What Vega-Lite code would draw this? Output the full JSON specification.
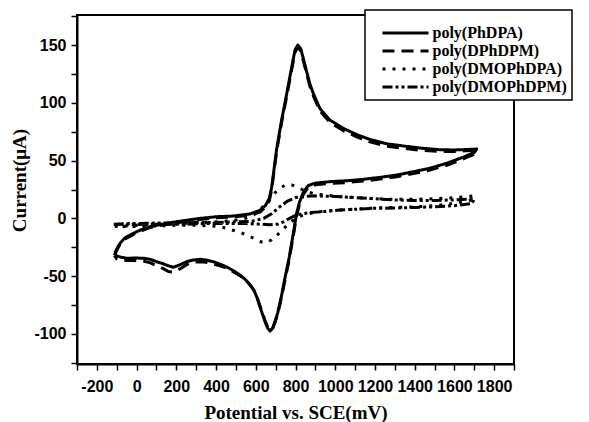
{
  "$schema": "https://vega.github.io/schema/vega-lite/v6.json",
  "width": 437,
  "height": 349,
  "autosize": {"type": "none"},
  "padding": {"left": 77, "top": 15, "right": 75, "bottom": 58},
  "background": "white",
  "config": {
    "view": {"stroke": "black", "strokeWidth": 2},
    "axis": {
      "grid": false,
      "domainColor": "black",
      "domainWidth": 2,
      "tickColor": "black",
      "tickWidth": 1.5,
      "tickSize": 6,
      "labelFont": "Liberation Sans",
      "labelFontWeight": "bold",
      "labelFontSize": 16,
      "labelColor": "black",
      "titleFont": "Liberation Serif",
      "titleFontWeight": "bold",
      "titleFontSize": 19,
      "titleColor": "black"
    },
    "legend": {
      "orient": "none",
      "legendX": 288,
      "legendY": -5,
      "strokeColor": "black",
      "strokeWidth": 1.5,
      "fillColor": "white",
      "padding": 5,
      "titleFontSize": 4,
      "titlePadding": 5,
      "symbolOffset": 26.5,
      "symbolType": "M-3.067,0H3.067",
      "symbolSize": 225,
      "symbolStrokeWidth": 3,
      "symbolStrokeColor": "black",
      "labelFont": "Liberation Serif",
      "labelFontWeight": "bold",
      "labelFontSize": 16,
      "labelColor": "black",
      "labelOffset": 18,
      "rowPadding": 1,
      "labelLimit": 300
    }
  },
  "data": {
    "values": [
      {"s":"poly(PhDPA)","i":0,"x":-110,"y":-30},
      {"s":"poly(PhDPA)","i":1,"x":-95,"y":-25},
      {"s":"poly(PhDPA)","i":2,"x":-83,"y":-21.5},
      {"s":"poly(PhDPA)","i":3,"x":-60,"y":-17},
      {"s":"poly(PhDPA)","i":4,"x":-17,"y":-13},
      {"s":"poly(PhDPA)","i":5,"x":20,"y":-10},
      {"s":"poly(PhDPA)","i":6,"x":67,"y":-7.2},
      {"s":"poly(PhDPA)","i":7,"x":152,"y":-4.2},
      {"s":"poly(PhDPA)","i":8,"x":235,"y":-2},
      {"s":"poly(PhDPA)","i":9,"x":319,"y":0},
      {"s":"poly(PhDPA)","i":10,"x":404,"y":1.5},
      {"s":"poly(PhDPA)","i":11,"x":487,"y":2},
      {"s":"poly(PhDPA)","i":12,"x":571,"y":3.8},
      {"s":"poly(PhDPA)","i":13,"x":621,"y":7},
      {"s":"poly(PhDPA)","i":14,"x":648,"y":11},
      {"s":"poly(PhDPA)","i":15,"x":668,"y":17},
      {"s":"poly(PhDPA)","i":16,"x":680,"y":27},
      {"s":"poly(PhDPA)","i":17,"x":690,"y":40},
      {"s":"poly(PhDPA)","i":18,"x":705,"y":60},
      {"s":"poly(PhDPA)","i":19,"x":730,"y":85},
      {"s":"poly(PhDPA)","i":20,"x":756,"y":108},
      {"s":"poly(PhDPA)","i":21,"x":781,"y":131},
      {"s":"poly(PhDPA)","i":22,"x":798,"y":146},
      {"s":"poly(PhDPA)","i":23,"x":812,"y":150},
      {"s":"poly(PhDPA)","i":24,"x":826,"y":147},
      {"s":"poly(PhDPA)","i":25,"x":840,"y":138},
      {"s":"poly(PhDPA)","i":26,"x":856,"y":127},
      {"s":"poly(PhDPA)","i":27,"x":873,"y":116},
      {"s":"poly(PhDPA)","i":28,"x":890,"y":108},
      {"s":"poly(PhDPA)","i":29,"x":923,"y":95},
      {"s":"poly(PhDPA)","i":30,"x":974,"y":85},
      {"s":"poly(PhDPA)","i":31,"x":1040,"y":78},
      {"s":"poly(PhDPA)","i":32,"x":1108,"y":72.5},
      {"s":"poly(PhDPA)","i":33,"x":1180,"y":68},
      {"s":"poly(PhDPA)","i":34,"x":1260,"y":64.5},
      {"s":"poly(PhDPA)","i":35,"x":1350,"y":62.5},
      {"s":"poly(PhDPA)","i":36,"x":1430,"y":60.8},
      {"s":"poly(PhDPA)","i":37,"x":1520,"y":59.5},
      {"s":"poly(PhDPA)","i":38,"x":1600,"y":59.2},
      {"s":"poly(PhDPA)","i":39,"x":1660,"y":59.6},
      {"s":"poly(PhDPA)","i":40,"x":1712,"y":60},
      {"s":"poly(PhDPA)","i":41,"x":1700,"y":57},
      {"s":"poly(PhDPA)","i":42,"x":1678,"y":55.5},
      {"s":"poly(PhDPA)","i":43,"x":1645,"y":53},
      {"s":"poly(PhDPA)","i":44,"x":1561,"y":47.7},
      {"s":"poly(PhDPA)","i":45,"x":1477,"y":43.4},
      {"s":"poly(PhDPA)","i":46,"x":1393,"y":40.4},
      {"s":"poly(PhDPA)","i":47,"x":1309,"y":37.5},
      {"s":"poly(PhDPA)","i":48,"x":1225,"y":35.5},
      {"s":"poly(PhDPA)","i":49,"x":1141,"y":33.8},
      {"s":"poly(PhDPA)","i":50,"x":1058,"y":32.6},
      {"s":"poly(PhDPA)","i":51,"x":974,"y":31.8},
      {"s":"poly(PhDPA)","i":52,"x":900,"y":30.5},
      {"s":"poly(PhDPA)","i":53,"x":865,"y":28.5},
      {"s":"poly(PhDPA)","i":54,"x":840,"y":23},
      {"s":"poly(PhDPA)","i":55,"x":820,"y":14},
      {"s":"poly(PhDPA)","i":56,"x":805,"y":4},
      {"s":"poly(PhDPA)","i":57,"x":792,"y":-10},
      {"s":"poly(PhDPA)","i":58,"x":780,"y":-22},
      {"s":"poly(PhDPA)","i":59,"x":768,"y":-34},
      {"s":"poly(PhDPA)","i":60,"x":756,"y":-44},
      {"s":"poly(PhDPA)","i":61,"x":744,"y":-54},
      {"s":"poly(PhDPA)","i":62,"x":732,"y":-65},
      {"s":"poly(PhDPA)","i":63,"x":722,"y":-73},
      {"s":"poly(PhDPA)","i":64,"x":710,"y":-82},
      {"s":"poly(PhDPA)","i":65,"x":697,"y":-89},
      {"s":"poly(PhDPA)","i":66,"x":685,"y":-95},
      {"s":"poly(PhDPA)","i":67,"x":672,"y":-97.5},
      {"s":"poly(PhDPA)","i":68,"x":660,"y":-95},
      {"s":"poly(PhDPA)","i":69,"x":648,"y":-90},
      {"s":"poly(PhDPA)","i":70,"x":638,"y":-85},
      {"s":"poly(PhDPA)","i":71,"x":620,"y":-76},
      {"s":"poly(PhDPA)","i":72,"x":605,"y":-68},
      {"s":"poly(PhDPA)","i":73,"x":590,"y":-62},
      {"s":"poly(PhDPA)","i":74,"x":571,"y":-57.5},
      {"s":"poly(PhDPA)","i":75,"x":545,"y":-52.5},
      {"s":"poly(PhDPA)","i":76,"x":520,"y":-49},
      {"s":"poly(PhDPA)","i":77,"x":490,"y":-45.5},
      {"s":"poly(PhDPA)","i":78,"x":453,"y":-42},
      {"s":"poly(PhDPA)","i":79,"x":420,"y":-39.5},
      {"s":"poly(PhDPA)","i":80,"x":386,"y":-37.5},
      {"s":"poly(PhDPA)","i":81,"x":350,"y":-36},
      {"s":"poly(PhDPA)","i":82,"x":319,"y":-35.4},
      {"s":"poly(PhDPA)","i":83,"x":285,"y":-36},
      {"s":"poly(PhDPA)","i":84,"x":252,"y":-37.5},
      {"s":"poly(PhDPA)","i":85,"x":220,"y":-40},
      {"s":"poly(PhDPA)","i":86,"x":185,"y":-42.3},
      {"s":"poly(PhDPA)","i":87,"x":160,"y":-41},
      {"s":"poly(PhDPA)","i":88,"x":130,"y":-39},
      {"s":"poly(PhDPA)","i":89,"x":101,"y":-37.5},
      {"s":"poly(PhDPA)","i":90,"x":70,"y":-35.5},
      {"s":"poly(PhDPA)","i":91,"x":34,"y":-34.5},
      {"s":"poly(PhDPA)","i":92,"x":-10,"y":-34.3},
      {"s":"poly(PhDPA)","i":93,"x":-50,"y":-34.5},
      {"s":"poly(PhDPA)","i":94,"x":-80,"y":-33.5},
      {"s":"poly(PhDPA)","i":95,"x":-100,"y":-32.5},
      {"s":"poly(PhDPA)","i":96,"x":-110,"y":-30},

      {"s":"poly(DPhDPM)","i":0,"x":-112,"y":-32},
      {"s":"poly(DPhDPM)","i":1,"x":-98,"y":-27},
      {"s":"poly(DPhDPM)","i":2,"x":-85,"y":-23},
      {"s":"poly(DPhDPM)","i":3,"x":-60,"y":-18},
      {"s":"poly(DPhDPM)","i":4,"x":-17,"y":-14},
      {"s":"poly(DPhDPM)","i":5,"x":20,"y":-11},
      {"s":"poly(DPhDPM)","i":6,"x":67,"y":-8},
      {"s":"poly(DPhDPM)","i":7,"x":152,"y":-5},
      {"s":"poly(DPhDPM)","i":8,"x":235,"y":-3},
      {"s":"poly(DPhDPM)","i":9,"x":319,"y":-1},
      {"s":"poly(DPhDPM)","i":10,"x":404,"y":0.5},
      {"s":"poly(DPhDPM)","i":11,"x":487,"y":1.2},
      {"s":"poly(DPhDPM)","i":12,"x":571,"y":2.8},
      {"s":"poly(DPhDPM)","i":13,"x":621,"y":5.5},
      {"s":"poly(DPhDPM)","i":14,"x":648,"y":9.5},
      {"s":"poly(DPhDPM)","i":15,"x":668,"y":15},
      {"s":"poly(DPhDPM)","i":16,"x":680,"y":25},
      {"s":"poly(DPhDPM)","i":17,"x":690,"y":38},
      {"s":"poly(DPhDPM)","i":18,"x":705,"y":58},
      {"s":"poly(DPhDPM)","i":19,"x":730,"y":83},
      {"s":"poly(DPhDPM)","i":20,"x":756,"y":106},
      {"s":"poly(DPhDPM)","i":21,"x":781,"y":129},
      {"s":"poly(DPhDPM)","i":22,"x":798,"y":144},
      {"s":"poly(DPhDPM)","i":23,"x":812,"y":148},
      {"s":"poly(DPhDPM)","i":24,"x":826,"y":145},
      {"s":"poly(DPhDPM)","i":25,"x":840,"y":136},
      {"s":"poly(DPhDPM)","i":26,"x":856,"y":125},
      {"s":"poly(DPhDPM)","i":27,"x":873,"y":114},
      {"s":"poly(DPhDPM)","i":28,"x":890,"y":106},
      {"s":"poly(DPhDPM)","i":29,"x":923,"y":93},
      {"s":"poly(DPhDPM)","i":30,"x":974,"y":83},
      {"s":"poly(DPhDPM)","i":31,"x":1040,"y":76},
      {"s":"poly(DPhDPM)","i":32,"x":1108,"y":70.5},
      {"s":"poly(DPhDPM)","i":33,"x":1180,"y":66},
      {"s":"poly(DPhDPM)","i":34,"x":1260,"y":62.5},
      {"s":"poly(DPhDPM)","i":35,"x":1350,"y":60.5},
      {"s":"poly(DPhDPM)","i":36,"x":1430,"y":59},
      {"s":"poly(DPhDPM)","i":37,"x":1520,"y":58},
      {"s":"poly(DPhDPM)","i":38,"x":1600,"y":57.8},
      {"s":"poly(DPhDPM)","i":39,"x":1660,"y":58.5},
      {"s":"poly(DPhDPM)","i":40,"x":1712,"y":59},
      {"s":"poly(DPhDPM)","i":41,"x":1700,"y":55.5},
      {"s":"poly(DPhDPM)","i":42,"x":1678,"y":54},
      {"s":"poly(DPhDPM)","i":43,"x":1645,"y":51.5},
      {"s":"poly(DPhDPM)","i":44,"x":1561,"y":46},
      {"s":"poly(DPhDPM)","i":45,"x":1477,"y":41.8},
      {"s":"poly(DPhDPM)","i":46,"x":1393,"y":38.8},
      {"s":"poly(DPhDPM)","i":47,"x":1309,"y":36},
      {"s":"poly(DPhDPM)","i":48,"x":1225,"y":34},
      {"s":"poly(DPhDPM)","i":49,"x":1141,"y":32.3},
      {"s":"poly(DPhDPM)","i":50,"x":1058,"y":31},
      {"s":"poly(DPhDPM)","i":51,"x":974,"y":30.3},
      {"s":"poly(DPhDPM)","i":52,"x":900,"y":29},
      {"s":"poly(DPhDPM)","i":53,"x":865,"y":27},
      {"s":"poly(DPhDPM)","i":54,"x":840,"y":21},
      {"s":"poly(DPhDPM)","i":55,"x":820,"y":12},
      {"s":"poly(DPhDPM)","i":56,"x":805,"y":2},
      {"s":"poly(DPhDPM)","i":57,"x":792,"y":-12},
      {"s":"poly(DPhDPM)","i":58,"x":780,"y":-24},
      {"s":"poly(DPhDPM)","i":59,"x":768,"y":-36},
      {"s":"poly(DPhDPM)","i":60,"x":756,"y":-46},
      {"s":"poly(DPhDPM)","i":61,"x":744,"y":-56},
      {"s":"poly(DPhDPM)","i":62,"x":732,"y":-66},
      {"s":"poly(DPhDPM)","i":63,"x":722,"y":-74},
      {"s":"poly(DPhDPM)","i":64,"x":710,"y":-83},
      {"s":"poly(DPhDPM)","i":65,"x":697,"y":-90},
      {"s":"poly(DPhDPM)","i":66,"x":685,"y":-95},
      {"s":"poly(DPhDPM)","i":67,"x":672,"y":-96.5},
      {"s":"poly(DPhDPM)","i":68,"x":660,"y":-94},
      {"s":"poly(DPhDPM)","i":69,"x":648,"y":-89},
      {"s":"poly(DPhDPM)","i":70,"x":638,"y":-84},
      {"s":"poly(DPhDPM)","i":71,"x":620,"y":-75},
      {"s":"poly(DPhDPM)","i":72,"x":605,"y":-67.5},
      {"s":"poly(DPhDPM)","i":73,"x":590,"y":-62},
      {"s":"poly(DPhDPM)","i":74,"x":571,"y":-57.5},
      {"s":"poly(DPhDPM)","i":75,"x":545,"y":-52.5},
      {"s":"poly(DPhDPM)","i":76,"x":520,"y":-49.5},
      {"s":"poly(DPhDPM)","i":77,"x":490,"y":-46.5},
      {"s":"poly(DPhDPM)","i":78,"x":453,"y":-43},
      {"s":"poly(DPhDPM)","i":79,"x":420,"y":-41},
      {"s":"poly(DPhDPM)","i":80,"x":386,"y":-39.5},
      {"s":"poly(DPhDPM)","i":81,"x":350,"y":-38},
      {"s":"poly(DPhDPM)","i":82,"x":319,"y":-37.5},
      {"s":"poly(DPhDPM)","i":83,"x":285,"y":-38},
      {"s":"poly(DPhDPM)","i":84,"x":252,"y":-40},
      {"s":"poly(DPhDPM)","i":85,"x":220,"y":-43.5},
      {"s":"poly(DPhDPM)","i":86,"x":185,"y":-46.5},
      {"s":"poly(DPhDPM)","i":87,"x":160,"y":-46},
      {"s":"poly(DPhDPM)","i":88,"x":130,"y":-43},
      {"s":"poly(DPhDPM)","i":89,"x":101,"y":-41},
      {"s":"poly(DPhDPM)","i":90,"x":70,"y":-38.5},
      {"s":"poly(DPhDPM)","i":91,"x":34,"y":-37},
      {"s":"poly(DPhDPM)","i":92,"x":-10,"y":-36.5},
      {"s":"poly(DPhDPM)","i":93,"x":-50,"y":-36.5},
      {"s":"poly(DPhDPM)","i":94,"x":-80,"y":-36},
      {"s":"poly(DPhDPM)","i":95,"x":-100,"y":-35},
      {"s":"poly(DPhDPM)","i":96,"x":-112,"y":-32},

      {"s":"poly(DMOPhDPA)","i":0,"x":-110,"y":-7},
      {"s":"poly(DMOPhDPA)","i":1,"x":-50,"y":-6.5},
      {"s":"poly(DMOPhDPA)","i":2,"x":0,"y":-6},
      {"s":"poly(DMOPhDPA)","i":3,"x":100,"y":-5},
      {"s":"poly(DMOPhDPA)","i":4,"x":200,"y":-4.5},
      {"s":"poly(DMOPhDPA)","i":5,"x":300,"y":-4},
      {"s":"poly(DMOPhDPA)","i":6,"x":400,"y":-3},
      {"s":"poly(DMOPhDPA)","i":7,"x":480,"y":-2},
      {"s":"poly(DMOPhDPA)","i":8,"x":540,"y":-0.5},
      {"s":"poly(DMOPhDPA)","i":9,"x":590,"y":3},
      {"s":"poly(DMOPhDPA)","i":10,"x":630,"y":9},
      {"s":"poly(DMOPhDPA)","i":11,"x":660,"y":15},
      {"s":"poly(DMOPhDPA)","i":12,"x":690,"y":21},
      {"s":"poly(DMOPhDPA)","i":13,"x":720,"y":26},
      {"s":"poly(DMOPhDPA)","i":14,"x":750,"y":29},
      {"s":"poly(DMOPhDPA)","i":15,"x":780,"y":29},
      {"s":"poly(DMOPhDPA)","i":16,"x":810,"y":27},
      {"s":"poly(DMOPhDPA)","i":17,"x":850,"y":23.5},
      {"s":"poly(DMOPhDPA)","i":18,"x":900,"y":21},
      {"s":"poly(DMOPhDPA)","i":19,"x":960,"y":20},
      {"s":"poly(DMOPhDPA)","i":20,"x":1000,"y":19},
      {"s":"poly(DMOPhDPA)","i":21,"x":1100,"y":18},
      {"s":"poly(DMOPhDPA)","i":22,"x":1200,"y":17},
      {"s":"poly(DMOPhDPA)","i":23,"x":1300,"y":16.5},
      {"s":"poly(DMOPhDPA)","i":24,"x":1400,"y":16.5},
      {"s":"poly(DMOPhDPA)","i":25,"x":1500,"y":17},
      {"s":"poly(DMOPhDPA)","i":26,"x":1600,"y":18},
      {"s":"poly(DMOPhDPA)","i":27,"x":1700,"y":19.5},
      {"s":"poly(DMOPhDPA)","i":28,"x":1690,"y":16},
      {"s":"poly(DMOPhDPA)","i":29,"x":1600,"y":13},
      {"s":"poly(DMOPhDPA)","i":30,"x":1500,"y":11},
      {"s":"poly(DMOPhDPA)","i":31,"x":1400,"y":10},
      {"s":"poly(DMOPhDPA)","i":32,"x":1300,"y":9.5},
      {"s":"poly(DMOPhDPA)","i":33,"x":1200,"y":9},
      {"s":"poly(DMOPhDPA)","i":34,"x":1100,"y":8},
      {"s":"poly(DMOPhDPA)","i":35,"x":1000,"y":7},
      {"s":"poly(DMOPhDPA)","i":36,"x":900,"y":5.5},
      {"s":"poly(DMOPhDPA)","i":37,"x":840,"y":3},
      {"s":"poly(DMOPhDPA)","i":38,"x":800,"y":0},
      {"s":"poly(DMOPhDPA)","i":39,"x":770,"y":-4},
      {"s":"poly(DMOPhDPA)","i":40,"x":740,"y":-9},
      {"s":"poly(DMOPhDPA)","i":41,"x":710,"y":-14},
      {"s":"poly(DMOPhDPA)","i":42,"x":680,"y":-18.5},
      {"s":"poly(DMOPhDPA)","i":43,"x":655,"y":-21},
      {"s":"poly(DMOPhDPA)","i":44,"x":630,"y":-20.5},
      {"s":"poly(DMOPhDPA)","i":45,"x":600,"y":-18},
      {"s":"poly(DMOPhDPA)","i":46,"x":560,"y":-15},
      {"s":"poly(DMOPhDPA)","i":47,"x":520,"y":-12},
      {"s":"poly(DMOPhDPA)","i":48,"x":480,"y":-10},
      {"s":"poly(DMOPhDPA)","i":49,"x":430,"y":-7.5},
      {"s":"poly(DMOPhDPA)","i":50,"x":380,"y":-6.5},
      {"s":"poly(DMOPhDPA)","i":51,"x":300,"y":-6},
      {"s":"poly(DMOPhDPA)","i":52,"x":200,"y":-6},
      {"s":"poly(DMOPhDPA)","i":53,"x":100,"y":-6.5},
      {"s":"poly(DMOPhDPA)","i":54,"x":0,"y":-7},
      {"s":"poly(DMOPhDPA)","i":55,"x":-110,"y":-7},

      {"s":"poly(DMOPhDPM)","i":0,"x":-115,"y":-5},
      {"s":"poly(DMOPhDPM)","i":1,"x":-50,"y":-4.5},
      {"s":"poly(DMOPhDPM)","i":2,"x":0,"y":-4.5},
      {"s":"poly(DMOPhDPM)","i":3,"x":100,"y":-4},
      {"s":"poly(DMOPhDPM)","i":4,"x":200,"y":-4},
      {"s":"poly(DMOPhDPM)","i":5,"x":300,"y":-3.5},
      {"s":"poly(DMOPhDPM)","i":6,"x":400,"y":-3.5},
      {"s":"poly(DMOPhDPM)","i":7,"x":500,"y":-3},
      {"s":"poly(DMOPhDPM)","i":8,"x":580,"y":-2.5},
      {"s":"poly(DMOPhDPM)","i":9,"x":640,"y":0},
      {"s":"poly(DMOPhDPM)","i":10,"x":680,"y":4},
      {"s":"poly(DMOPhDPM)","i":11,"x":720,"y":10},
      {"s":"poly(DMOPhDPM)","i":12,"x":760,"y":15},
      {"s":"poly(DMOPhDPM)","i":13,"x":800,"y":18},
      {"s":"poly(DMOPhDPM)","i":14,"x":850,"y":19},
      {"s":"poly(DMOPhDPM)","i":15,"x":900,"y":19.5},
      {"s":"poly(DMOPhDPM)","i":16,"x":1000,"y":19},
      {"s":"poly(DMOPhDPM)","i":17,"x":1100,"y":18},
      {"s":"poly(DMOPhDPM)","i":18,"x":1200,"y":17},
      {"s":"poly(DMOPhDPM)","i":19,"x":1300,"y":16},
      {"s":"poly(DMOPhDPM)","i":20,"x":1400,"y":15.5},
      {"s":"poly(DMOPhDPM)","i":21,"x":1500,"y":15.5},
      {"s":"poly(DMOPhDPM)","i":22,"x":1600,"y":16},
      {"s":"poly(DMOPhDPM)","i":23,"x":1700,"y":17},
      {"s":"poly(DMOPhDPM)","i":24,"x":1690,"y":13},
      {"s":"poly(DMOPhDPM)","i":25,"x":1600,"y":11},
      {"s":"poly(DMOPhDPM)","i":26,"x":1500,"y":10},
      {"s":"poly(DMOPhDPM)","i":27,"x":1400,"y":9.5},
      {"s":"poly(DMOPhDPM)","i":28,"x":1300,"y":9},
      {"s":"poly(DMOPhDPM)","i":29,"x":1192,"y":8.7},
      {"s":"poly(DMOPhDPM)","i":30,"x":1108,"y":7.9},
      {"s":"poly(DMOPhDPM)","i":31,"x":1024,"y":7.3},
      {"s":"poly(DMOPhDPM)","i":32,"x":938,"y":5.8},
      {"s":"poly(DMOPhDPM)","i":33,"x":873,"y":5},
      {"s":"poly(DMOPhDPM)","i":34,"x":806,"y":3},
      {"s":"poly(DMOPhDPM)","i":35,"x":770,"y":0},
      {"s":"poly(DMOPhDPM)","i":36,"x":740,"y":-3},
      {"s":"poly(DMOPhDPM)","i":37,"x":710,"y":-5},
      {"s":"poly(DMOPhDPM)","i":38,"x":670,"y":-5.5},
      {"s":"poly(DMOPhDPM)","i":39,"x":620,"y":-5},
      {"s":"poly(DMOPhDPM)","i":40,"x":550,"y":-4.5},
      {"s":"poly(DMOPhDPM)","i":41,"x":450,"y":-4.5},
      {"s":"poly(DMOPhDPM)","i":42,"x":350,"y":-4.5},
      {"s":"poly(DMOPhDPM)","i":43,"x":250,"y":-5},
      {"s":"poly(DMOPhDPM)","i":44,"x":150,"y":-5},
      {"s":"poly(DMOPhDPM)","i":45,"x":50,"y":-5},
      {"s":"poly(DMOPhDPM)","i":46,"x":-50,"y":-5.5},
      {"s":"poly(DMOPhDPM)","i":47,"x":-115,"y":-5}
    ]
  },
  "mark": {"type": "line", "color": "black", "strokeWidth": 3, "strokeJoin": "round"},
  "encoding": {
    "x": {
      "field": "x",
      "type": "quantitative",
      "scale": {"domain": [-300, 1900], "nice": false, "zero": false},
      "title": "Potential vs. SCE(mV)",
      "axis": {
        "values": [-300,-200,-100,0,100,200,300,400,500,600,700,800,900,1000,1100,1200,1300,1400,1500,1600,1700,1800,1900],
        "labelExpr": "datum.value % 200 == 0 ? '' + datum.value : ''",
        "labelFlush": false,
        "labelOverlap": false,
        "labelPadding": 8,
        "titleY": 54,
        "titleBaseline": "alphabetic"
      }
    },
    "y": {
      "field": "y",
      "type": "quantitative",
      "scale": {"domain": [-126, 176], "nice": false, "zero": false},
      "title": "Current(μA)",
      "axis": {
        "values": [-125,-100,-75,-50,-25,0,25,50,75,100,125,150,175],
        "labelExpr": "datum.value % 50 == 0 ? '' + datum.value : ''",
        "labelFlush": false,
        "labelOverlap": false,
        "labelPadding": 5,
        "titleX": -52,
        "titleY": 165,
        "titleBaseline": "alphabetic"
      }
    },
    "strokeDash": {
      "field": "s",
      "type": "nominal",
      "scale": {
        "domain": ["poly(PhDPA)", "poly(DPhDPM)", "poly(DMOPhDPA)", "poly(DMOPhDPM)"],
        "range": [[1, 0], [12, 7], [3, 7], [10, 3, 3, 3, 3, 3]]
      },
      "legend": {"title": " "}
    },
    "order": {"field": "i", "type": "quantitative"}
  }
}
